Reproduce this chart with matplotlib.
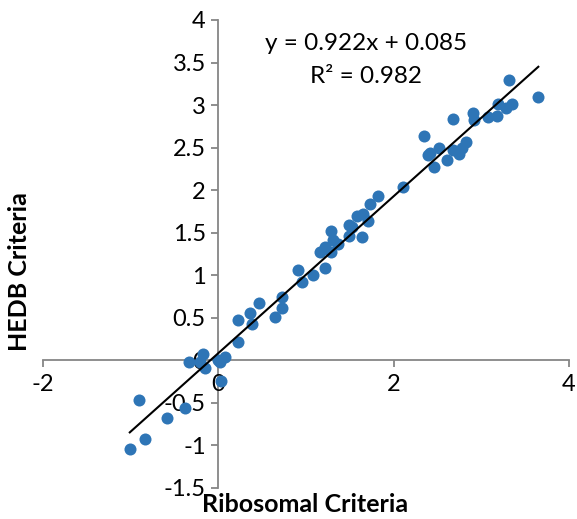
import numpy as np
import matplotlib.pyplot as plt

plt.rcParams['font.family'] = ['Lato', 'DejaVu Sans']

# data
ribosomal = [-1.01, -0.90, -0.84, -0.59, -0.38, -0.34, -0.21, -0.18, -0.15, 0.00, 0.02, 0.08, 0.03,
             0.22, 0.22, 0.36, 0.38, 0.46, 0.65, 0.73, 0.73,
             0.91, 0.96, 1.08, 1.22, 1.16, 1.22, 1.28, 1.29, 1.31, 1.37,
             1.49, 1.49, 1.52, 1.58, 1.64, 1.65, 1.71, 1.73, 1.82,
             2.11, 2.35, 2.39, 2.42, 2.46, 2.52, 2.61, 2.68, 2.68, 2.75, 2.78, 2.83,
             2.90, 2.92, 3.08, 3.18, 3.19, 3.28, 3.31, 3.35, 3.65]
hedb = [-1.04, -0.46, -0.93, -0.68, -0.56, -0.02, -0.02, 0.08, -0.09, 0.00, -0.02, 0.04, -0.24,
        0.22, 0.47, 0.56, 0.43, 0.67, 0.51, 0.62, 0.75,
        1.06, 0.92, 1.00, 1.08, 1.27, 1.33, 1.52, 1.27, 1.41, 1.37,
        1.59, 1.46, 1.57, 1.70, 1.45, 1.72, 1.64, 1.84, 1.93,
        2.04, 2.64, 2.41, 2.44, 2.27, 2.49, 2.35, 2.47, 2.84, 2.43, 2.50, 2.57,
        2.91, 2.83, 2.86, 2.87, 3.01, 2.97, 3.29, 3.01, 3.10]
slope, intercept, r2 = 0.922, 0.085, 0.982

fig = plt.figure(figsize=(5.77, 5.19), dpi=100)
ax = fig.add_axes([43 / 577, 31 / 519, 526 / 577, 468 / 519])

ax.scatter(ribosomal, hedb, s=75, color='#2E75B6', zorder=3, linewidths=0)
xl = np.array([min(ribosomal), max(ribosomal)])
ax.plot(xl, slope * xl + intercept, color='black', lw=1.5, zorder=4)

ax.set_xlim(-2, 4)
ax.set_ylim(-1.5, 4)
ax.set_xticks([-2, 0, 2, 4])
ax.set_xticklabels(['-2', '0', '2', '4'])
yt = [-1.5, -1, -0.5, 0, 0.5, 1, 1.5, 2, 2.5, 3, 3.5, 4]
ax.set_yticks(yt)
ax.set_yticklabels(['%g' % v for v in yt])

for s in ['top', 'right']:
    ax.spines[s].set_visible(False)
ax.spines['left'].set_position(('data', 0))
ax.spines['bottom'].set_position(('data', 0))
for s in ['left', 'bottom']:
    ax.spines[s].set_color('#868686')
    ax.spines[s].set_linewidth(1.3)
    ax.spines[s].set_zorder(1)
ax.tick_params(colors='#868686', labelcolor='black', labelsize=17, length=5, width=1.3)
ax.tick_params(axis='x', pad=5)
ax.tick_params(axis='y', pad=4)
for lab in ax.get_xticklabels() + ax.get_yticklabels():
    lab.set_zorder(5)

ax.text(1.69, 3.72, 'y = %.3fx + %.3f' % (slope, intercept), ha='center', va='center', fontsize=17.5)
ax.text(1.69, 3.34, 'R² = %.3f' % r2, ha='center', va='center', fontsize=17.5)

fig.text(20 / 577, 1 - 272 / 519, 'HEDB Criteria', rotation=90, ha='center', va='center',
         fontsize=18, fontweight='bold')
fig.text(305 / 577, 1 - 504 / 519, 'Ribosomal Criteria', ha='center', va='center',
         fontsize=18, fontweight='bold')

fig.savefig('out.png', dpi=100)
